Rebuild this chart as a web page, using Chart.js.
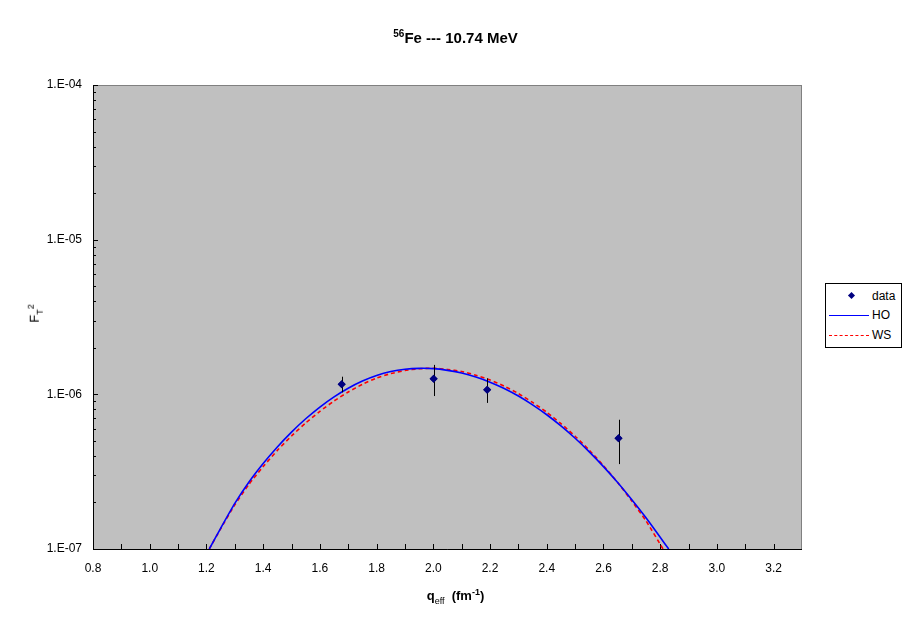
<!DOCTYPE html>
<html>
<head>
<meta charset="utf-8">
<script src="https://cdn.jsdelivr.net/npm/chart.js@4/dist/chart.umd.min.js"></script>
<style>
  html, body { margin: 0; padding: 0; background: #fff; }
  #wrap { position: relative; width: 911px; height: 623px; font-family: "Liberation Sans", Arial, sans-serif; }
  #c { position: absolute; left: 0; top: 0; }
  .title { position: absolute; left: 0; width: 911px; top: 28px; text-align: center; font-weight: bold; font-size: 15px; }
  .title sup { font-size: 10px; }
  .xtitle { position: absolute; left: 0; width: 911px; top: 587px; text-align: center; font-weight: bold; font-size: 13px; }
  .xtitle sub { font-size: 9px; font-weight: normal; }
  .xtitle sup { font-size: 9px; }
  .ytitle { position: absolute; left: 26px; top: 304px; transform: rotate(-90deg); transform-origin: center; font-size: 13px; white-space: nowrap; }
  .ytitle sub, .ytitle sup { font-size: 9px; }
  .legend { position: absolute; left: 825px; top: 283px; width: 77px; height: 65px; border: 1px solid #000; background: #fff; font-size: 12px; box-sizing: border-box; }
  .row { position: absolute; left: 0; width: 76px; height: 16px; }
  .row span { position: absolute; left: 46px; top: 0; line-height: 16px; }
  .dia { position: absolute; left: 23px; top: 5px; width: 5px; height: 5px; background: #000080; transform: rotate(45deg); }
  .ln { position: absolute; left: 3px; width: 40px; top: 8px; height: 0; border-top: 1px solid #0000ff; }
  .dash { position: absolute; left: 3px; width: 40px; top: 8px; height: 0; border-top: 1px dashed #ff0000; }
</style>
</head>
<body>
<div id="wrap">
  <canvas id="c" width="911" height="623"></canvas>
  <div class="title"><sup>56</sup>Fe --- 10.74 MeV</div>
  <div class="xtitle">q<sub>eff</sub> &nbsp;(fm<sup>-1</sup>)</div>
  <div class="ytitle">F<sub>T</sub><sup>2</sup></div>
  <div class="legend">
    <div class="row" style="top:4px"><div class="dia"></div><span>data</span></div>
    <div class="row" style="top:23px"><div class="ln"></div><span>HO</span></div>
    <div class="row" style="top:43px"><div class="dash"></div><span>WS</span></div>
  </div>
</div>
<script>
// data
const dataX    = [1.677, 2.001, 2.19, 2.653];
const dataY    = [1.16e-6, 1.26e-6, 1.07e-6, 5.2e-7];
const dataLow  = [1.03e-6, 9.75e-7, 8.8e-7, 3.54e-7];
const dataHigh = [1.30e-6, 1.55e-6, 1.27e-6, 6.85e-7];

const hoX = [1.21, 1.25, 1.3, 1.35, 1.4, 1.45, 1.5, 1.55, 1.6, 1.65, 1.7, 1.75, 1.8, 1.85, 1.9, 1.95, 2.0, 2.05, 2.1, 2.15, 2.2, 2.25, 2.3, 2.35, 2.4, 2.45, 2.5, 2.55, 2.6, 2.65, 2.7, 2.75, 2.8, 2.83];
const hoY = [1.0e-7, 1.36e-7, 1.97e-7, 2.71e-7, 3.57e-7, 4.57e-7, 5.70e-7, 6.95e-7, 8.28e-7, 9.64e-7, 1.096e-6, 1.219e-6, 1.324e-6, 1.403e-6, 1.452e-6, 1.472e-6, 1.466e-6, 1.429e-6, 1.374e-6, 1.294e-6, 1.199e-6, 1.091e-6, 9.75e-7, 8.55e-7, 7.38e-7, 6.25e-7, 5.20e-7, 4.25e-7, 3.41e-7, 2.69e-7, 2.08e-7, 1.59e-7, 1.19e-7, 1.0e-7];

const wsX = [1.21, 1.25, 1.3, 1.35, 1.4, 1.45, 1.5, 1.55, 1.6, 1.65, 1.7, 1.75, 1.8, 1.85, 1.9, 1.95, 2.0, 2.05, 2.1, 2.15, 2.2, 2.25, 2.3, 2.35, 2.4, 2.45, 2.5, 2.55, 2.6, 2.65, 2.7, 2.75, 2.81];
const wsY = [1.0e-7, 1.35e-7, 1.93e-7, 2.62e-7, 3.41e-7, 4.34e-7, 5.38e-7, 6.53e-7, 7.76e-7, 9.06e-7, 1.035e-6, 1.161e-6, 1.274e-6, 1.361e-6, 1.426e-6, 1.462e-6, 1.476e-6, 1.449e-6, 1.406e-6, 1.330e-6, 1.239e-6, 1.130e-6, 1.012e-6, 8.87e-7, 7.66e-7, 6.47e-7, 5.36e-7, 4.35e-7, 3.46e-7, 2.69e-7, 2.04e-7, 1.52e-7, 1.0e-7];

const xTicks = [0.8, 1.0, 1.2, 1.4, 1.6, 1.8, 2.0, 2.2, 2.4, 2.6, 2.8, 3.0, 3.2];
const xMinorTicks = [0.9, 1.1, 1.3, 1.5, 1.7, 1.9, 2.1, 2.3, 2.5, 2.7, 2.9, 3.1, 3.3];
const yTicks = [1e-7, 1e-6, 1e-5, 1e-4];
const yTickLabels = ["1.E-07", "1.E-06", "1.E-05", "1.E-04"];

const pts = (xs, ys) => xs.map((x, i) => ({ x, y: ys[i] }));

// grey plot area, frame, inside tick marks and error bars
const frame = {
  id: "frame",
  beforeDatasetsDraw(chart) {
    const { ctx, chartArea: a, scales: { x, y } } = chart;
    ctx.save();
    ctx.fillStyle = "#c0c0c0";
    ctx.fillRect(a.left, a.top, a.right - a.left, a.bottom - a.top);
    ctx.strokeStyle = "#808080";
    ctx.lineWidth = 1;
    ctx.strokeRect(a.left + 0.5, a.top + 0.5, a.right - a.left - 1, a.bottom - a.top);
    ctx.strokeStyle = "#000";
    ctx.beginPath();
    ctx.moveTo(a.left + 0.5, a.top); ctx.lineTo(a.left + 0.5, a.bottom + 0.5); ctx.lineTo(a.right, a.bottom + 0.5);
    // x ticks every 0.1, inside
    xTicks.concat(xMinorTicks).forEach(v => {
      const px = Math.round(x.getPixelForValue(v)) + 0.5;
      if (px > a.left + 1 && px < a.right) { ctx.moveTo(px, a.bottom); ctx.lineTo(px, a.bottom - 5); }
    });
    // y ticks, inside (decades and minor 2..9)
    yTicks.forEach((d, i) => {
      const py = Math.round(y.getPixelForValue(d)) + 0.5;
      ctx.moveTo(a.left, py); ctx.lineTo(a.left + 5, py);
      if (i < yTicks.length - 1) {
        for (let m = 2; m <= 9; m++) {
          const q = Math.round(y.getPixelForValue(d * m)) + 0.5;
          ctx.moveTo(a.left, q); ctx.lineTo(a.left + 3, q);
        }
      }
    });
    ctx.stroke();
    ctx.restore();
  },
  afterDatasetsDraw(chart) {
    const { ctx, scales: { x, y } } = chart;
    ctx.save();
    ctx.strokeStyle = "#000";
    ctx.lineWidth = 1;
    ctx.beginPath();
    dataX.forEach((v, i) => {
      const px = Math.round(x.getPixelForValue(v)) + 0.5;
      ctx.moveTo(px, y.getPixelForValue(dataLow[i]));
      ctx.lineTo(px, y.getPixelForValue(dataHigh[i]));
    });
    ctx.stroke();
    ctx.restore();
    // redraw markers above the bars
    chart.getDatasetMeta(2).controller.draw();
  }
};

new Chart(document.getElementById("c"), {
  type: "scatter",
  data: {
    datasets: [
      { label: "HO", data: pts(hoX, hoY), showLine: true, borderColor: "#0000ff", borderWidth: 1.6, pointRadius: 0, tension: 0.2 },
      { label: "WS", data: pts(wsX, wsY), showLine: true, borderColor: "#ff0000", borderWidth: 1.6, borderDash: [4, 3], pointRadius: 0, tension: 0.2 },
      { label: "data", data: pts(dataX, dataY), pointStyle: "rectRot", pointRadius: 4, backgroundColor: "#000080", borderColor: "#000080", borderWidth: 0 }
    ]
  },
  options: {
    responsive: false,
    devicePixelRatio: 1,
    animation: false,
    layout: { padding: { left: 0, top: 85, right: 109, bottom: 44 } },
    plugins: { legend: { display: false }, tooltip: { enabled: false } },
    scales: {
      x: {
        type: "linear", min: 0.8, max: 3.3,
        grid: { display: false }, border: { display: false },
        afterBuildTicks: s => { s.ticks = xTicks.map(v => ({ value: v })); },
        afterFit: s => { s.height = 30; },
        ticks: { padding: 4, color: "#000", font: { family: "Liberation Sans", size: 12 }, maxRotation: 0, autoSkip: false, callback: v => v.toFixed(1) }
      },
      y: {
        type: "logarithmic", min: 1e-7, max: 1e-4,
        grid: { display: false }, border: { display: false },
        afterBuildTicks: s => { s.ticks = yTicks.map(v => ({ value: v })); },
        afterFit: s => { s.width = 93; },
        ticks: { padding: 3, color: "#000", font: { family: "Liberation Sans", size: 12 }, autoSkip: false,
                 callback: v => yTickLabels[yTicks.findIndex(t => Math.abs(t - v) / t < 1e-6)] }
      }
    }
  },
  plugins: [frame]
});
</script>
</body>
</html>
